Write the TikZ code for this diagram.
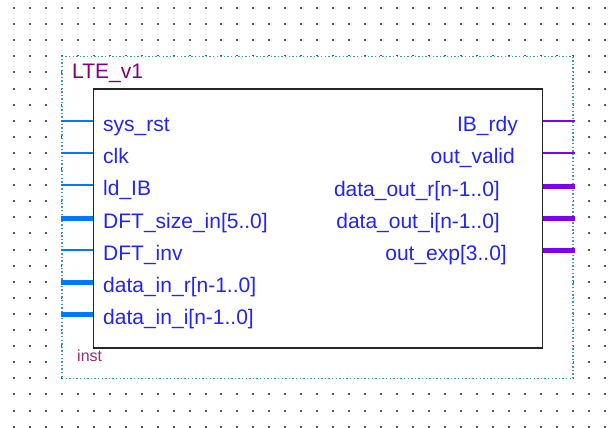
\documentclass[tikz,border=0pt]{standalone}
\usepackage{fontspec}
\setmainfont{Liberation Sans}
\usetikzlibrary{positioning}
\definecolor{portblue}{RGB}{35,35,245}
\definecolor{inwire}{RGB}{0,120,255}
\definecolor{outwire}{RGB}{128,0,240}
\definecolor{framecol}{RGB}{60,160,160}
\definecolor{titlecol}{RGB}{128,0,128}
\definecolor{instcol}{RGB}{150,45,115}
\tikzset{
  griddot/.style={fill=black!65},
  symframe/.style={draw=framecol, fill=white, line width=1.4pt,
    dash pattern=on 1.4pt off 2.2pt, minimum width=511pt, minimum height=322pt, inner sep=0pt},
  symbox/.style={draw=black!85, fill=white, line width=1.8pt,
    minimum width=449pt, minimum height=259pt, inner sep=0pt},
  portlabel/.style={text=portblue, font=\fontsize{21}{25}\selectfont, inner sep=0pt},
  inthin/.style={draw=inwire, line width=1.9pt},
  inbus/.style={draw=inwire, line width=5pt},
  outthin/.style={draw=outwire, line width=1.9pt},
  outbus/.style={draw=outwire, line width=5pt}
}
\begin{document}
\begin{tikzpicture}[x=1pt,y=-1pt]
	\useasboundingbox (0,0) rectangle (613,428);
	\fill[white] (0,0) rectangle (613,428);

	% grid of the schematic sheet
	\foreach \i in {0,...,37}
		\foreach \j in {0,...,26}
			\fill[griddot] (14+15.96*\i-1,8+16.1*\j-1) rectangle ++(2,2);

	\node[symframe] (frame) at (317.5,217.5) {};
	\node[symbox] (box) at (318,218.5) {};

	\node[anchor=base west, text=titlecol, font=\fontsize{21}{25}\selectfont, inner sep=0pt]
		(title) at (72,78) {LTE\_v1};
	\node[anchor=base west, text=instcol, font=\fontsize{16}{19}\selectfont, inner sep=0pt]
		(inst) at (77,361) {inst};

	% inputs
	\foreach \y/\txt/\sty [count=\n] in {
		121/sys\_rst/inthin, 153/clk/inthin, 185/ld\_IB/inthin,
		218/DFT\_size\_in{[}5..0{]}/inbus, 250/DFT\_inv/inthin,
		282/data\_in\_r{[}n-1..0{]}/inbus, 314/data\_in\_i{[}n-1..0{]}/inbus}
	{
		\coordinate (in\n) at (61,\y);
		\draw[\sty] (in\n) -- (in\n -| box.west);
		\node[portlabel, anchor=base west] (inlbl\n) at (103,\y+10.5) {\txt};
	}

	% outputs
	\foreach \y/\txt/\sty/\x [count=\n] in {
		121/IB\_rdy/outthin/518, 153/out\_valid/outthin/515,
		186/data\_out\_r{[}n-1..0{]}/outbus/500, 218/data\_out\_i{[}n-1..0{]}/outbus/500,
		250/out\_exp{[}3..0{]}/outbus/507}
	{
		\coordinate (out\n) at (575,\y);
		\draw[\sty] (out\n -| box.east) -- (out\n);
		\node[portlabel, anchor=base east] (outlbl\n) at (\x,\y+10.5) {\txt};
	}
\end{tikzpicture}
\end{document}
